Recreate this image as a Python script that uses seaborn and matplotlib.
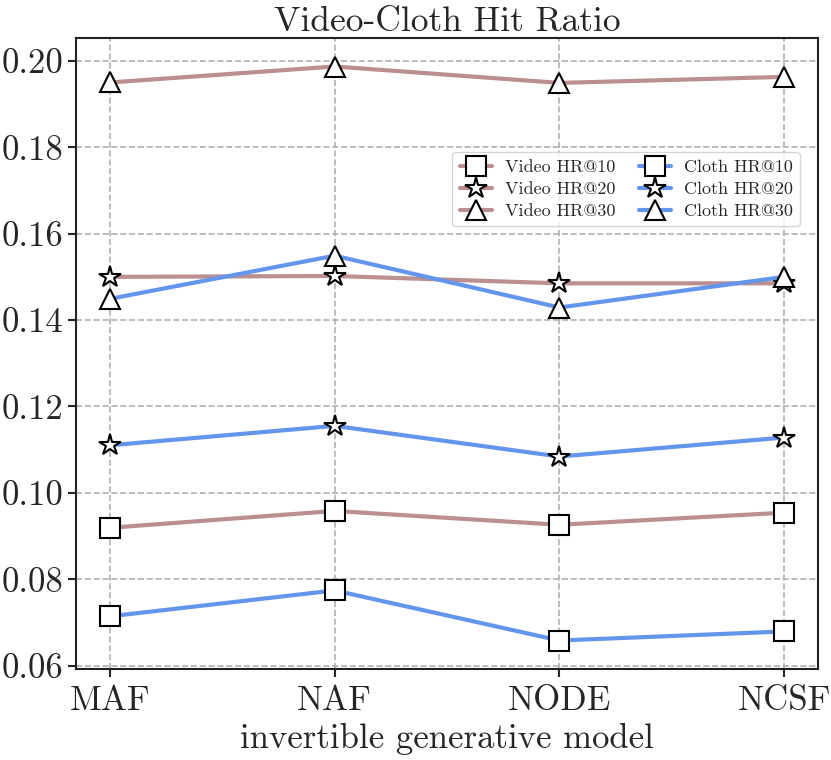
import pandas as pd
import numpy as np
import matplotlib
matplotlib.use('Agg')
import matplotlib.pyplot as plt
import seaborn as sns

# dados
modelos = ['MAF', 'NAF', 'NODE', 'NCSF']
video_hr10 = [0.0919, 0.0958, 0.0926, 0.0954]
video_hr20 = [0.1500, 0.1502, 0.1485, 0.1485]
video_hr30 = [0.1950, 0.1987, 0.1949, 0.1963]
cloth_hr10 = [0.0714, 0.0774, 0.0658, 0.0679]
cloth_hr20 = [0.1110, 0.1155, 0.1084, 0.1128]
cloth_hr30 = [0.1449, 0.1549, 0.1429, 0.1500]

series = [
    ('Video HR@10', video_hr10, 'rosybrown', 's'),
    ('Video HR@20', video_hr20, 'rosybrown', '*'),
    ('Video HR@30', video_hr30, 'rosybrown', '^'),
    ('Cloth HR@10', cloth_hr10, 'cornflowerblue', 's'),
    ('Cloth HR@20', cloth_hr20, 'cornflowerblue', '*'),
    ('Cloth HR@30', cloth_hr30, 'cornflowerblue', '^'),
]

sns.set_style('ticks')
plt.rcParams['font.family'] = ['cmr10', 'DejaVu Serif']
plt.rcParams['mathtext.fontset'] = 'cm'
plt.rcParams['axes.formatter.use_mathtext'] = True

fig = plt.figure(figsize=(8.31, 7.6), dpi=100)
ax = fig.add_axes([0.0915, 0.1197, 0.8929, 0.8303])

x = np.arange(len(modelos))
for nome, vals, cor, mk in series:
    df = pd.DataFrame({'x': x, 'y': vals})
    ms = 16 if mk == '*' else 14
    sns.lineplot(data=df, x='x', y='y', ax=ax, color=cor, linewidth=3,
                 marker=mk, markersize=ms, markerfacecolor='white',
                 markeredgecolor='black', markeredgewidth=1.5, label=nome)

ax.set_xticks(x)
ax.set_xticklabels(modelos)
ax.set_xlim(-0.15, 3.15)
ax.set_ylim(0.0592, 0.2053)
ax.set_yticks([0.06, 0.08, 0.10, 0.12, 0.14, 0.16, 0.18, 0.20])
ax.set_yticklabels(['0.06', '0.08', '0.10', '0.12', '0.14', '0.16', '0.18', '0.20'])
ax.tick_params(labelsize=25, width=1.5, length=6)
ax.tick_params(axis='x', pad=6)
ax.tick_params(axis='y', pad=3)
ax.grid(True, linestyle='--', color='#b0b0b0', linewidth=1.2)
for s in ax.spines.values():
    s.set_linewidth(1.5)
    s.set_color('#222222')

ax.set_title('Video-Cloth Hit Ratio', fontsize=25.5, pad=1)
ax.set_xlabel('invertible generative model', fontsize=25, labelpad=4)
ax.set_ylabel('')

ax.legend(loc='upper right', bbox_to_anchor=(0.988, 0.833), ncol=2, fontsize=13,
          handlelength=1.8, columnspacing=1.3, labelspacing=0.35, handletextpad=0.7,
          framealpha=0.8, edgecolor='#cccccc')

fig.savefig('out.png', dpi=100)
